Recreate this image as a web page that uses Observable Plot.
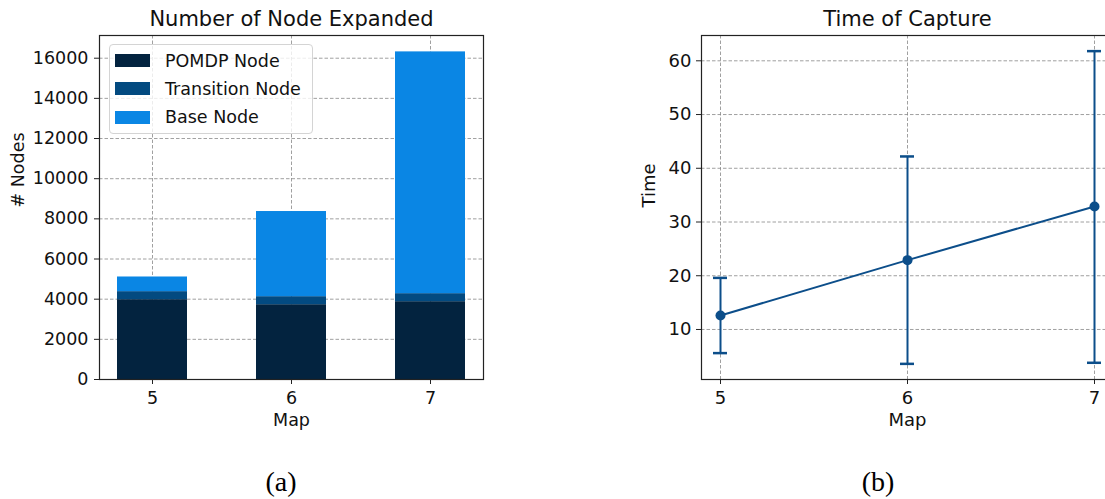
<!DOCTYPE html>
<html>
<head>
<meta charset="utf-8">
<script src="https://cdn.jsdelivr.net/npm/d3@7"></script>
<script src="https://cdn.jsdelivr.net/npm/@observablehq/plot@0.6"></script>
<style>
  html, body { margin: 0; padding: 0; background: #fff; }
  #wrap { position: relative; width: 1105px; height: 499px; overflow: hidden; font-family: "DejaVu Sans", sans-serif; color: #111; }
  .panel { position: absolute; top: 0; }
  .legend { position: absolute; left: 109px; top: 44px; width: 204px; height: 90px; border: 1px solid #d4d4d4; border-radius: 4px; background: rgba(255,255,255,0.8); box-sizing: border-box; }
  .legend .row { position: absolute; left: 5px; height: 20px; display: flex; align-items: center; font-size: 17.5px; color: #111; white-space: nowrap; }
  .legend .sw { width: 35px; height: 13px; margin-right: 15px; }
  .cap { position: absolute; font-family: "Liberation Serif", "Times New Roman", serif; font-size: 28px; color: #000; transform: translate(-50%, -50%); }
</style>
</head>
<body>
<div id="wrap"></div>
<script>
// ---- data ----
const maps = [5, 6, 7];
const seriesNames = ["POMDP Node", "Transition Node", "Base Node"];
const seriesColors = ["#03233f", "#034a80", "#0a86e4"];
const pomdpNodes = [3975, 3725, 3875];
const transitionNodes = [400, 400, 400];
const baseNodes = [730, 4240, 12040];
const nodeTicks = [0, 2000, 4000, 6000, 8000, 10000, 12000, 14000, 16000];

const timeMean = [12.6, 22.9, 32.9];
const timeLow = [5.6, 3.6, 3.8];
const timeHigh = [19.6, 42.2, 61.8];
const timeTicks = [10, 20, 30, 40, 50, 60];

const titleA = "Number of Node Expanded";
const titleB = "Time of Capture";
const captions = ["(a)", "(b)"];

// ---- tables ----
const seriesValues = [pomdpNodes, transitionNodes, baseNodes];
const nodeRows = [];
maps.forEach((m, i) => seriesNames.forEach((s, j) => nodeRows.push({map: m, series: s, value: seriesValues[j][i]})));
const timeRows = maps.map((m, i) => ({map: m, mean: timeMean[i], lo: timeLow[i], hi: timeHigh[i]}));

const wrap = document.getElementById("wrap");
const gridStyle = {stroke: "#888", strokeOpacity: 1, strokeWidth: 0.8, strokeDasharray: "3.5,2"};
const lineColor = "#0c4e8a";
const plain = d => String(d);

// ---- panel (a) ----
const totalMax = d3.max(maps.map((m, i) => pomdpNodes[i] + transitionNodes[i] + baseNodes[i]));
const plotA = Plot.plot({
  width: 560, height: 430,
  marginLeft: 99, marginRight: 77, marginTop: 35, marginBottom: 51,
  style: {fontFamily: "DejaVu Sans", fontSize: "17.5px", color: "#111", background: "transparent", overflow: "visible"},
  x: {type: "band", domain: maps, paddingInner: 0.5, paddingOuter: 0.125, label: null},
  y: {domain: [0, totalMax * 1.05], label: null},
  color: {domain: seriesNames, range: seriesColors},
  marks: [
    Plot.gridY(nodeTicks, gridStyle),
    Plot.gridX(maps, gridStyle),
    Plot.barY(nodeRows, {x: "map", y: "value", fill: "series"}),
    Plot.frame({stroke: "#222", strokeWidth: 1.2}),
    Plot.axisY(nodeTicks, {tickSize: 5, tickPadding: 6, label: null, stroke: "#222", tickFormat: plain, fontSize: 17.5}),
    Plot.axisX(maps, {tickSize: 5, tickPadding: 7, label: null, stroke: "#222", tickFormat: plain, fontSize: 17.5}),
    Plot.text([titleA], {frameAnchor: "top", dy: -16, lineAnchor: "middle", fontSize: 21}),
    Plot.text(["# Nodes"], {frameAnchor: "left", dx: -81, rotate: -90, lineAnchor: "middle", fontSize: 17.5}),
    Plot.text(["Map"], {frameAnchor: "bottom", dy: 41, lineAnchor: "middle", fontSize: 17.5})
  ]
});
plotA.classList.add("panel");
plotA.style.left = "0px";
wrap.appendChild(plotA);

// legend (a)
const legend = document.createElement("div");
legend.className = "legend";
seriesNames.forEach((s, j) => {
  const row = document.createElement("div");
  row.className = "row";
  row.style.top = (5.5 + j * 28.3) + "px";
  const sw = document.createElement("span");
  sw.className = "sw";
  sw.style.background = seriesColors[j];
  row.appendChild(sw);
  row.appendChild(document.createTextNode(s));
  legend.appendChild(row);
});
wrap.appendChild(legend);

// ---- panel (b) ----
const lo = d3.min(timeLow), hi = d3.max(timeHigh), pad = (hi - lo) * 0.05;
const plotB = Plot.plot({
  width: 570, height: 430,
  marginLeft: 141, marginRight: 17, marginTop: 35, marginBottom: 51,
  style: {fontFamily: "DejaVu Sans", fontSize: "18px", color: "#111", background: "transparent", overflow: "visible"},
  x: {type: "band", domain: maps, paddingInner: 1, paddingOuter: 0.1, label: null},
  y: {domain: [lo - pad, hi + pad], label: null},
  marks: [
    Plot.gridY(timeTicks, gridStyle),
    Plot.gridX(maps, gridStyle),
    Plot.ruleX(timeRows, {x: "map", y1: "lo", y2: "hi", stroke: lineColor, strokeWidth: 2}),
    Plot.tickY(timeRows, {x: "map", y: "hi", stroke: lineColor, strokeWidth: 2.5, insetLeft: -7, insetRight: -7}),
    Plot.tickY(timeRows, {x: "map", y: "lo", stroke: lineColor, strokeWidth: 2.5, insetLeft: -7, insetRight: -7}),
    Plot.line(timeRows, {x: "map", y: "mean", stroke: lineColor, strokeWidth: 2}),
    Plot.dot(timeRows, {x: "map", y: "mean", r: 5, fill: lineColor}),
    Plot.frame({stroke: "#222", strokeWidth: 1.2}),
    Plot.axisY(timeTicks, {tickSize: 5, tickPadding: 5, label: null, stroke: "#222", tickFormat: plain, fontSize: 18}),
    Plot.axisX(maps, {tickSize: 5, tickPadding: 7, label: null, stroke: "#222", tickFormat: plain, fontSize: 18}),
    Plot.text([titleB], {frameAnchor: "top", dy: -16, lineAnchor: "middle", fontSize: 21}),
    Plot.text(["Time"], {frameAnchor: "left", dx: -52, rotate: -90, lineAnchor: "middle", fontSize: 18}),
    Plot.text(["Map"], {frameAnchor: "bottom", dy: 41, lineAnchor: "middle", fontSize: 18})
  ]
});
plotB.classList.add("panel");
plotB.style.left = "560px";
wrap.appendChild(plotB);

// captions
const capX = [281, 878];
captions.forEach((c, i) => {
  const d = document.createElement("div");
  d.className = "cap";
  d.style.left = capX[i] + "px";
  d.style.top = "482px";
  d.textContent = c;
  wrap.appendChild(d);
});
</script>
</body>
</html>
